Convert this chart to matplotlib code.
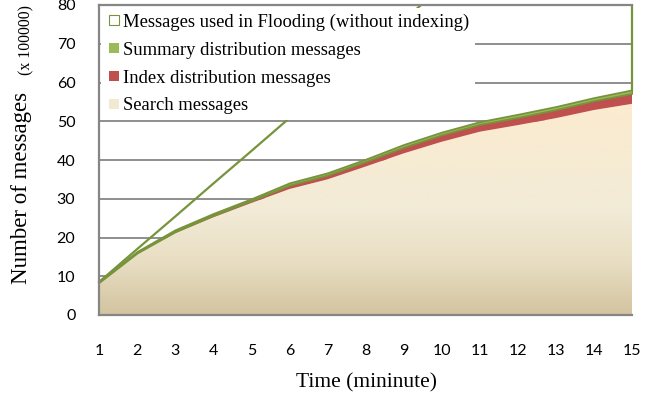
import matplotlib
matplotlib.use("Agg")
import matplotlib.pyplot as plt
import numpy as np
from matplotlib.patches import Rectangle
from matplotlib.lines import Line2D
from matplotlib.colors import LinearSegmentedColormap

minutes = list(range(1, 16))
search = [8.3, 15.8, 21.1, 25.2, 28.9, 32.5, 35.0, 38.3, 41.7, 44.7, 47.3, 49.0, 50.8, 52.9, 54.5]
index_dist = [0.1, 0.2, 0.4, 0.5, 0.6, 1.0, 1.1, 1.3, 1.6, 1.8, 1.9, 2.0, 2.2, 2.4, 2.7]
summary_dist = [0.4, 0.4, 0.5, 0.5, 0.5, 0.6, 0.6, 0.6, 0.7, 0.7, 0.7, 0.8, 0.8, 0.8, 0.9]
flooding = [8.5, 17.0, 25.4, 33.9, 42.3, 50.8, 59.2, 67.7, 76.1, 84.6, 93.0, 101.5, 109.9, 118.4, 126.8]
yticks = [0, 10, 20, 30, 40, 50, 60, 70, 80]
labels = ["Messages used in Flooding (without indexing)", "Summary distribution messages",
          "Index distribution messages", "Search messages"]

GREEN = "#9BBB59"
DGREEN = "#77933C"
RED = "#C0504D"
GRID = "#868686"

fig = plt.figure(figsize=(6.65, 3.97), dpi=100)
ax = fig.add_axes([99/665, 1-315/397, (632-99)/665, (315-5)/397])

x = np.array(minutes, dtype=float)
s = np.array(search)
i1 = s + np.array(index_dist)
s1 = i1 + np.array(summary_dist)

# flooding area outline (no fill; gridlines show through)
clip = Rectangle((0.9, 0), 14.15, 80.3, transform=ax.transData, facecolor="none", edgecolor="none")
fl1, = ax.plot(x, flooding, color=DGREEN, linewidth=1.6, zorder=1)
fl2, = ax.plot([x[-1], x[-1]], [s1[-1], flooding[-1]], color=DGREEN, linewidth=1.6, zorder=1)
for ln in (fl1, fl2):
    ln.set_clip_path(clip)

# search area with gradient
poly = ax.fill_between(x, 0, s, facecolor="none", edgecolor="none", zorder=2)
cmap = LinearSegmentedColormap.from_list("beige", [
    (0.0, (211/255, 196/255, 160/255)),
    (0.25, (232/255, 222/255, 195/255)),
    (0.5, (242/255, 235/255, 215/255)),
    (1.0, (252/255, 235/255, 207/255))])
grad = np.linspace(0, 1, 256).reshape(-1, 1)
im = ax.imshow(grad, cmap=cmap, origin="lower", aspect="auto",
               extent=[x[0], x[-1], 0, max(search)], zorder=2)
im.set_clip_path(poly.get_paths()[0], transform=ax.transData)

ax.fill_between(x, s, i1, facecolor=RED, edgecolor="none", zorder=3)
ax.fill_between(x, i1, s1, facecolor=GREEN, edgecolor=DGREEN, linewidth=1.3, zorder=4)

ax.set_xlim(1, 15)
ax.set_ylim(0, 80)
ax.set_xticks(minutes)
ax.set_yticks(yticks)
ax.yaxis.grid(True, color=GRID, linewidth=1.3)
ax.set_axisbelow(True)
ax.tick_params(length=0, labelsize=11.5)
ax.tick_params(axis="y", pad=17)
ax.tick_params(axis="x", pad=21)
for lab in ax.get_xticklabels() + ax.get_yticklabels():
    lab.set_fontfamily("Lato")
for sp in ["left", "bottom", "top"]:
    ax.spines[sp].set_color(GRID)
    ax.spines[sp].set_linewidth(1.6)
    ax.spines[sp].set_zorder(6)
ax.spines["right"].set_visible(False)

def sq(fc, ec="none", mew=0):
    return Line2D([], [], linestyle="none", marker="s", markersize=6.5,
                  markerfacecolor=fc, markeredgecolor=ec, markeredgewidth=mew)

handles = [sq("white", DGREEN, 0.8), sq(GREEN), sq(RED), sq("#F2E9D3")]
leg = ax.legend(handles, labels, loc="upper left", bbox_to_anchor=(0.0, 0.996),
                prop={"family": "Liberation Serif", "size": 13.4},
                frameon=True, fancybox=False, framealpha=1, edgecolor="none",
                borderaxespad=0.1, borderpad=0.3, handlelength=0.86,
                handletextpad=0.05, labelspacing=0.58)
leg.set_zorder(5)

fig.text(22/665, 1-188/397, "Number of messages", rotation=90, ha="center", va="center",
         family="Liberation Serif", fontsize=16.5)
fig.text(26/665, 1-40/397, "(x 100000)", rotation=90, ha="center", va="center",
         family="Liberation Serif", fontsize=11.3)
fig.text(367/665, 1-383/397, "Time (mininute)", ha="center", va="center",
         family="Liberation Serif", fontsize=15.5)

fig.savefig("out.png", dpi=100)
